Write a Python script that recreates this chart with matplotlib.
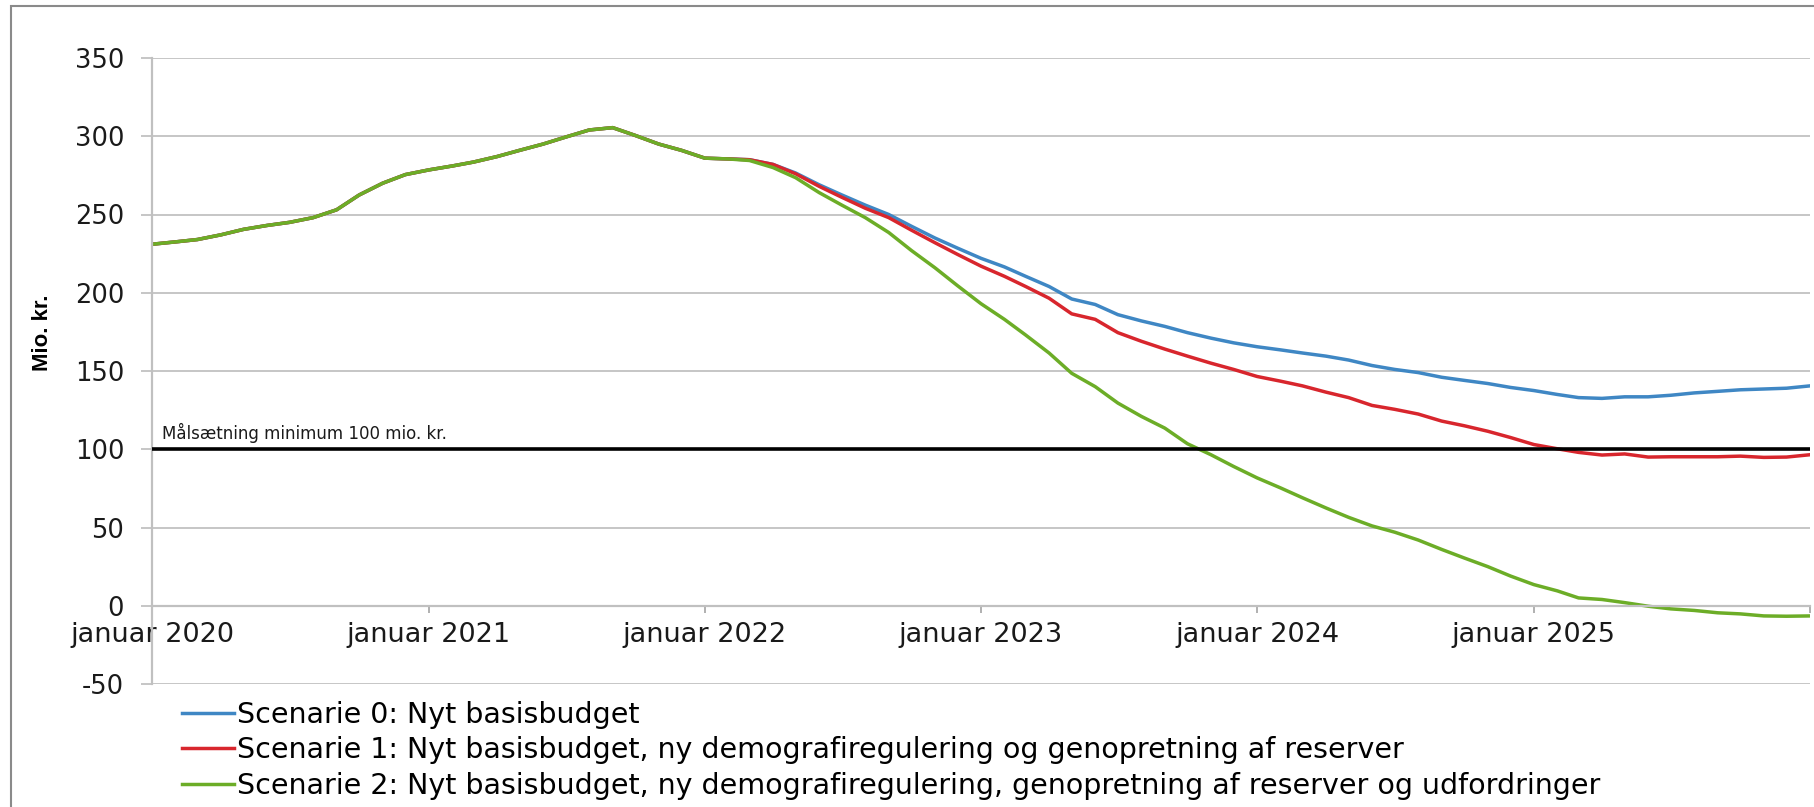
import pandas as pd
import matplotlib.pyplot as plt
from matplotlib.patches import Rectangle

plt.rcParams['axes.unicode_minus'] = False

# Fælles forløb jan 2020 - feb 2022 (alle tre scenarier ens)
faelles = [231, 232.5, 234, 237, 240.5, 243, 245, 248, 253, 262.5, 270, 275.5,
           278.5, 281, 283.5, 287, 291, 295, 299.5, 304, 305.5, 300.5, 295, 291,
           286, 285.5]

# Fremskrivning mar 2022 - jan 2026
scenarie0 = [285, 282, 276.5, 269, 262.5, 256, 250, 242.5, 235, 228.5, 222,
             216.5, 210.5, 204, 196, 192.5, 186, 182, 178.5, 174.5, 171, 168,
             165.5, 163.5, 161.5, 159.5, 157, 153.5, 151, 149, 146, 144, 142,
             139.5, 137.5, 135, 133, 132.5, 133.5, 133.5, 134.5, 136, 137, 138,
             138.5, 139, 140.5]
scenarie1 = [285, 282, 276, 268, 261, 254, 248, 240, 232, 224.5, 217, 210.5,
             204, 196.5, 186.5, 183, 174.5, 169, 164, 159.5, 155, 151, 146.5,
             143.5, 140.5, 136.5, 133, 128, 125.5, 122.5, 118, 115, 111.5, 107.5,
             103, 100.3, 98, 96.3, 97, 95, 95.2, 95.2, 95.2, 95.6, 94.8, 95, 96.5]
scenarie2 = [284.5, 280, 273.5, 264, 256, 248, 238.5, 227, 216, 204.5, 193, 183,
             173, 161.5, 148.5, 140, 129.5, 121, 113.5, 103.5, 96.5, 89, 81.7,
             75.3, 69, 62.5, 56.5, 51, 47, 42, 36, 30.5, 25, 19, 13.5, 9.5, 5, 4,
             2, -0.3, -2, -3, -4.5, -5.2, -6.5, -6.7, -6.5]

navne = ['Scenarie 0: Nyt basisbudget',
         'Scenarie 1: Nyt basisbudget, ny demografiregulering og genopretning af reserver',
         'Scenarie 2: Nyt basisbudget, ny demografiregulering, genopretning af reserver og udfordringer']
farver = ['#3f87c4', '#d8262d', '#6cad27']

aar = [2020, 2021, 2022, 2023, 2024, 2025, 2026]
aar_labels = ['januar 2020', 'januar 2021', 'januar 2022', 'januar 2023',
              'januar 2024', 'januar 2025', '']
maal = 100

datoer = pd.date_range('2020-01-01', periods=len(faelles) + len(scenarie0), freq='MS')

fig = plt.figure(figsize=(18.14, 8.07), dpi=100)
ax = fig.add_axes([152 / 1814, 1 - 684 / 807, 1658 / 1814, 626 / 807])

for serie, navn, farve in zip([scenarie0, scenarie1, scenarie2], navne, farver):
    ax.plot(datoer, faelles + serie, color=farve, lw=2.5, label=navn)

ax.axhline(maal, color='black', lw=2.6, zorder=3)
ax.text(0.006, maal + 6.5, 'Målsætning minimum 100 mio. kr.',
        transform=ax.get_yaxis_transform(), fontsize=12, va='baseline',
        color='#1a1a1a')

ax.set_ylim(-50, 350)
ax.set_yticks(range(-50, 351, 50))
ax.set_xlim(pd.Timestamp('2020-01-01'), pd.Timestamp('2026-01-01'))
ax.set_xticks([pd.Timestamp(f'{a}-01-01') for a in aar])
ax.set_xticklabels(aar_labels)

ax.grid(axis='y', color='#c6c6c6', lw=1.4)
ax.set_axisbelow(True)
for s in ['top', 'right']:
    ax.spines[s].set_visible(False)
ax.spines['left'].set_color('#c0c0c0')
ax.spines['left'].set_linewidth(1.6)
ax.spines['bottom'].set_position(('data', 0))
ax.spines['bottom'].set_color('#c0c0c0')
ax.spines['bottom'].set_linewidth(1.6)

ax.tick_params(axis='y', length=8, width=1.4, color='#c6c6c6', pad=12,
               labelsize=18.5, labelcolor='#1a1a1a')
ax.tick_params(axis='x', direction='out', length=5, width=1.4, color='#b0b0b0',
               pad=6.5, labelsize=19.5, labelcolor='#1a1a1a')

fig.text(43 / 1814, 1 - 333 / 807, 'Mio. kr.', rotation=90, ha='center',
         va='center', fontsize=16, fontweight='bold', family='Liberation Sans')

fig.legend(loc='upper left', bbox_to_anchor=(182 / 1814, 1 - 701 / 807),
           frameon=False, fontsize=20.5, handlelength=1.83, handletextpad=0.1,
           labelspacing=0.26, borderpad=0, borderaxespad=0)

fig.patches.append(Rectangle((11 / 1814, -0.1), 2, 1 - 6 / 807 + 0.1,
                             transform=fig.transFigure, fill=False,
                             edgecolor='#8a8a8a', lw=1.5))

fig.savefig('out.png', dpi=100)
